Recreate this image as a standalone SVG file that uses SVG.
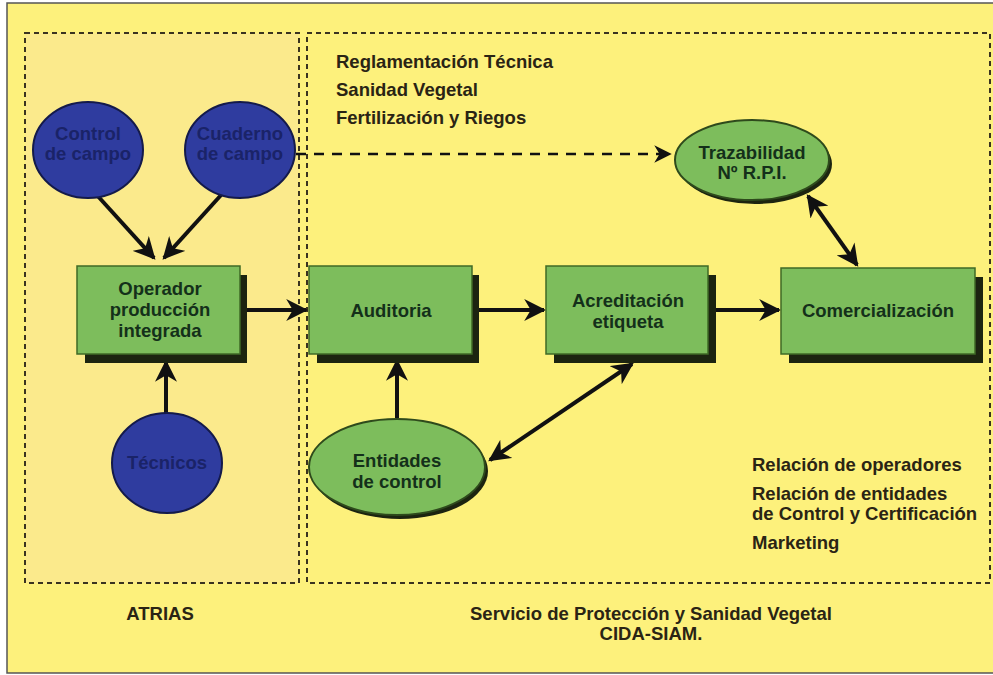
<svg xmlns="http://www.w3.org/2000/svg" width="993" height="675" viewBox="0 0 993 675">
<defs>
<style>
.txt{font-family:"Liberation Sans",Arial,sans-serif;font-size:18.5px;font-weight:bold;fill:#2a2414}
.btxt{font-family:"Liberation Sans",Arial,sans-serif;font-size:18.5px;font-weight:bold;fill:#14301a;text-anchor:middle}
.ctxt{font-family:"Liberation Sans",Arial,sans-serif;font-size:18.5px;font-weight:bold;fill:#1a2368;text-anchor:middle}
.box{fill:#7dbd5c;stroke:#3f6a26;stroke-width:1.5}
.shadow{fill:#1c2410}
.blue{fill:#2f3c9f;stroke:#141a4a;stroke-width:2}
.gell{fill:#7dbd5c;stroke:#2e4a1c;stroke-width:2}
.dash{fill:none;stroke:#3a3320;stroke-width:2;stroke-dasharray:5,4}
.conn{stroke:#111;stroke-width:4;fill:none}
</style>
<marker id="ah" viewBox="0 0 10 10" refX="9" refY="5" markerWidth="5.5" markerHeight="5.5" orient="auto-start-reverse" markerUnits="strokeWidth">
<path d="M0,0 L10,5 L0,10 L3,5 z" fill="#111"/>
</marker>
<marker id="ahs" viewBox="0 0 10 10" refX="9" refY="5" markerWidth="7" markerHeight="7" orient="auto" markerUnits="strokeWidth">
<path d="M0,0 L10,5 L0,10 L3,5 z" fill="#111"/>
</marker>
</defs>
<rect x="0" y="0" width="993" height="675" fill="#ffffff"/>
<rect x="7" y="3" width="990" height="670" fill="#fdf17c" stroke="#555" stroke-width="1.5"/>
<rect x="25" y="33" width="274" height="550" fill="#fbea8c"/>
<g id="panels">
<rect class="dash" x="25" y="33" width="274" height="550"/>
<rect class="dash" x="307" y="33" width="683" height="550"/>
</g>
<g id="connectors">
<line class="conn" x1="95" y1="193" x2="154" y2="258" marker-end="url(#ah)"/>
<line class="conn" x1="222" y1="194" x2="164" y2="258" marker-end="url(#ah)"/>
<line class="conn" x1="166" y1="413" x2="166" y2="362" marker-end="url(#ah)"/>
<line class="conn" x1="246" y1="310" x2="306" y2="310" marker-end="url(#ah)"/>
<line class="conn" x1="478" y1="310" x2="544" y2="310" marker-end="url(#ah)"/>
<line class="conn" x1="715" y1="310" x2="779" y2="310" marker-end="url(#ah)"/>
<line class="conn" x1="397" y1="418" x2="397" y2="361" marker-end="url(#ah)"/>
<line class="conn" x1="490" y1="460" x2="632" y2="364" marker-start="url(#ah)" marker-end="url(#ah)"/>
<line class="conn" x1="808" y1="196" x2="857" y2="265" marker-start="url(#ah)" marker-end="url(#ah)"/>
<line x1="296" y1="154" x2="670" y2="154" stroke="#111" stroke-width="2.5" stroke-dasharray="10,8" marker-end="url(#ahs)"/>
</g>
<g id="control-campo">
<ellipse class="blue" cx="88" cy="150" rx="55" ry="48"/>
<text class="ctxt" x="88" y="140">Control</text>
<text class="ctxt" x="88" y="160">de campo</text>
</g>
<g id="cuaderno-campo">
<ellipse class="blue" cx="240" cy="150" rx="55" ry="48"/>
<text class="ctxt" x="240" y="140">Cuaderno</text>
<text class="ctxt" x="240" y="160">de campo</text>
</g>
<g id="tecnicos">
<ellipse class="blue" cx="167" cy="463" rx="55" ry="50"/>
<text class="ctxt" x="167" y="469">Técnicos</text>
</g>
<g id="operador">
<rect class="shadow" x="85" y="275" width="162" height="88"/>
<rect class="box" x="77" y="266" width="163" height="88"/>
<text class="btxt" x="160" y="295">Operador</text>
<text class="btxt" x="160" y="316">producción</text>
<text class="btxt" x="160" y="337">integrada</text>
</g>
<g id="auditoria">
<rect class="shadow" x="317" y="275" width="162" height="88"/>
<rect class="box" x="309" y="266" width="163" height="88"/>
<text class="btxt" x="391" y="317">Auditoria</text>
</g>
<g id="acreditacion">
<rect class="shadow" x="554" y="275" width="162" height="88"/>
<rect class="box" x="546" y="266" width="162" height="88"/>
<text class="btxt" x="628" y="307">Acreditación</text>
<text class="btxt" x="628" y="328">etiqueta</text>
</g>
<g id="comercializacion">
<rect class="shadow" x="789" y="277" width="194" height="86"/>
<rect class="box" x="781" y="268" width="194" height="86"/>
<text class="btxt" x="878" y="317">Comercialización</text>
</g>
<g id="trazabilidad">
<ellipse class="shadow" cx="755" cy="164" rx="77" ry="40"/>
<ellipse class="gell" cx="752" cy="160" rx="77" ry="40"/>
<text class="btxt" x="752" y="159">Trazabilidad</text>
<text class="btxt" x="752" y="179">Nº R.P.I.</text>
</g>
<g id="entidades">
<ellipse class="shadow" cx="400" cy="471" rx="88" ry="48"/>
<ellipse class="gell" cx="397" cy="467" rx="88" ry="48"/>
<text class="btxt" x="397" y="467">Entidades</text>
<text class="btxt" x="397" y="488">de control</text>
</g>
<g id="notes">
<text class="txt" x="336" y="68">Reglamentación Técnica</text>
<text class="txt" x="336" y="96">Sanidad Vegetal</text>
<text class="txt" x="336" y="124">Fertilización y Riegos</text>
<text class="txt" x="752" y="471">Relación de operadores</text>
<text class="txt" x="752" y="500">Relación de entidades</text>
<text class="txt" x="752" y="520">de Control y Certificación</text>
<text class="txt" x="752" y="549">Marketing</text>
<text class="txt" x="160" y="620" text-anchor="middle">ATRIAS</text>
<text class="txt" x="651" y="620" text-anchor="middle">Servicio de Protección y Sanidad Vegetal</text>
<text class="txt" x="651" y="640" text-anchor="middle">CIDA-SIAM.</text>
</g>
</svg>
